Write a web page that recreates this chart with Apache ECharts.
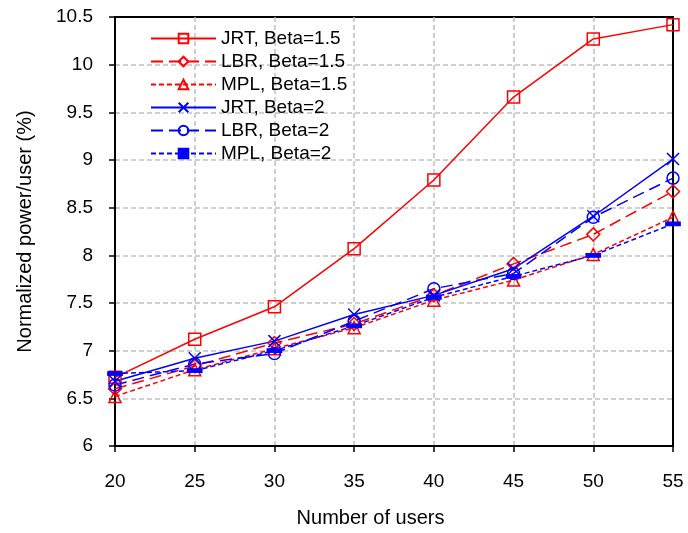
<!DOCTYPE html>
<html>
<head>
<meta charset="utf-8">
<script src="https://cdn.jsdelivr.net/npm/echarts@6/dist/echarts.min.js"></script>
<style>
  html, body { margin: 0; padding: 0; background: #fff; }
  #chart { width: 688px; height: 533px; }
</style>
</head>
<body>
<div id="chart"></div>
<script>
// Number of users on the x axis
const users = [20, 25, 30, 35, 40, 45, 50, 55];

// Normalized power per user (%) for each scheme
const jrtBeta15 = [6.72, 7.12, 7.46, 8.07, 8.79, 9.66, 10.27, 10.42];
const lbrBeta15 = [6.60, 6.84, 7.08, 7.28, 7.58, 7.91, 8.22, 8.67];
const mplBeta15 = [6.52, 6.80, 7.02, 7.24, 7.53, 7.74, 8.01, 8.40];
const jrtBeta2  = [6.68, 6.92, 7.10, 7.38, 7.58, 7.86, 8.41, 9.01];
const lbrBeta2  = [6.64, 6.86, 6.97, 7.31, 7.65, 7.81, 8.40, 8.81];
const mplBeta2  = [6.76, 6.79, 7.00, 7.26, 7.56, 7.78, 8.00, 8.33];

const seriesNames = [
  'JRT, Beta=1.5', 'LBR, Beta=1.5', 'MPL, Beta=1.5',
  'JRT, Beta=2', 'LBR, Beta=2', 'MPL, Beta=2'
];

const RED = '#ff0000';
const BLUE = '#0000ff';
const FONT = '"Liberation Sans", Arial, sans-serif';

const pairs = vals => users.map((u, i) => [u, vals[i]]);

function lineSeries(name, vals, color, dash, symbol, size, filled) {
  return {
    name: name,
    type: 'line',
    data: pairs(vals),
    symbol: symbol,
    symbolSize: size,
    showAllSymbol: true,
    lineStyle: { color: color, width: 1.5, type: dash },
    itemStyle: {
      color: filled ? color : 'transparent',
      borderColor: color,
      borderWidth: 1.5
    },
    emphasis: { disabled: true },
    animation: false
  };
}

const crossPath = 'path://M0,0L12,12M12,0L0,12';
const barPath = 'path://M0,0H13V4H0Z';

const gridDash = { show: true, showMinLine: false, showMaxLine: false,
  lineStyle: { color: '#c0c0c0', width: 1.5, type: [5, 3] } };

const chart = echarts.init(document.getElementById('chart'), null, { renderer: 'canvas' });

chart.setOption({
  backgroundColor: '#ffffff',
  animation: false,
  grid: {
    left: 115, right: 15, top: 17, bottom: 84,
    show: true, borderColor: '#000', borderWidth: 2,
    backgroundColor: 'transparent'
  },
  legend: {
    orient: 'vertical',
    left: 150,
    top: 29,
    padding: 0,
    itemWidth: 65,
    itemHeight: 12,
    itemGap: 4,
    textStyle: { fontFamily: FONT, fontSize: 19, color: '#000' },
    data: seriesNames
  },
  xAxis: {
    type: 'value',
    min: 20, max: 55, interval: 5,
    name: 'Number of users',
    nameLocation: 'middle',
    nameGap: 62,
    nameTextStyle: { fontFamily: FONT, fontSize: 20, color: '#000', padding: [0, 47, 0, 0] },
    axisLine: { show: true, lineStyle: { color: '#000', width: 2 } },
    axisTick: { show: true, length: 6, lineStyle: { color: '#000', width: 1.5 } },
    axisLabel: { fontFamily: FONT, fontSize: 19, color: '#000', margin: 26 },
    splitLine: gridDash
  },
  yAxis: {
    type: 'value',
    min: 6, max: 10.5, interval: 0.5,
    name: 'Normalized power/user (%)',
    nameLocation: 'middle',
    nameGap: 80,
    nameTextStyle: { fontFamily: FONT, fontSize: 20, color: '#000' },
    axisLine: { show: true, lineStyle: { color: '#000', width: 2 } },
    axisTick: { show: true, length: 6, lineStyle: { color: '#000', width: 1.5 } },
    axisLabel: { fontFamily: FONT, fontSize: 19, color: '#000', margin: 22 },
    splitLine: gridDash
  },
  series: [
    lineSeries(seriesNames[0], jrtBeta15, RED, 'solid', 'rect', 12, false),
    lineSeries(seriesNames[1], lbrBeta15, RED, [12, 6], 'diamond', [13, 13], false),
    lineSeries(seriesNames[2], mplBeta15, RED, [5, 3], 'triangle', 12, false),
    lineSeries(seriesNames[3], jrtBeta2, BLUE, 'solid', crossPath, 12, false),
    lineSeries(seriesNames[4], lbrBeta2, BLUE, [12, 6], 'circle', 12, false),
    lineSeries(seriesNames[5], mplBeta2, BLUE, [5, 3], barPath, [13, 4], true)
  ]
});
</script>
</body>
</html>
